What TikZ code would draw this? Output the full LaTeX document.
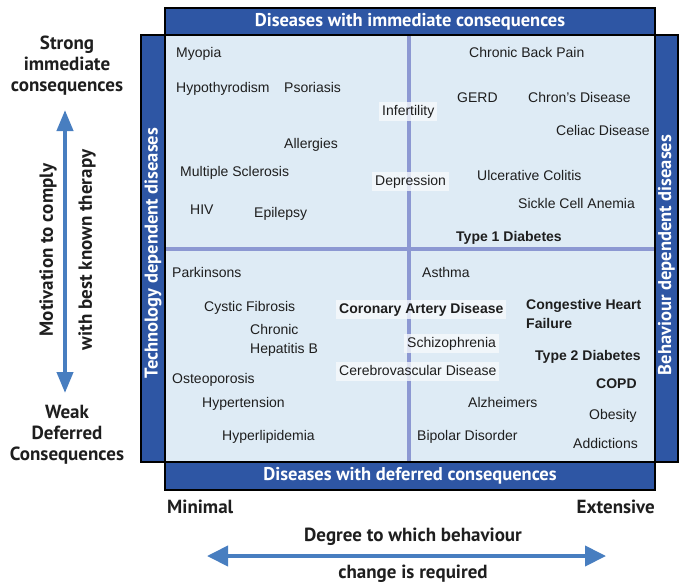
\documentclass[tikz,border=0pt]{standalone}
\usepackage{fontspec}
\setmainfont{Liberation Sans}
\newfontfamily\hdfont{PT Sans}
\usetikzlibrary{arrows.meta}

\definecolor{barblue}{RGB}{46,86,164}
\definecolor{panel}{RGB}{222,235,245}
\definecolor{divider}{RGB}{140,152,210}
\definecolor{labelbg}{RGB}{246,249,252}
\definecolor{arrowblue}{RGB}{72,126,192}
\definecolor{ink}{RGB}{30,30,30}

\tikzset{
  dzbase/.style={anchor=west, inner sep=0pt, text=ink},
  dz/.style={dzbase, text height=10.5pt, text depth=3pt, yshift=-1.5pt, font=\fontsize{14}{15}\selectfont},
  dzb/.style={dz, font=\fontsize{14}{15}\selectfont\bfseries},
  dzml/.style={dzbase, align=left, font=\fontsize{14}{19}\selectfont},
  dzmlb/.style={dzml, font=\fontsize{14}{19}\selectfont\bfseries},
  dzbox/.style={dz, fill=labelbg, fill opacity=0.8, text opacity=1, inner xsep=3pt, inner ysep=3pt},
  dzboxb/.style={dzbox, font=\fontsize{14}{15}\selectfont\bfseries},
  barlabel/.style={text=white, inner sep=0pt, font=\hdfont\bfseries\fontsize{18.5}{20}\selectfont},
  axislabel/.style={text=ink, inner sep=0pt, align=center, font=\hdfont\bfseries\fontsize{19}{21}\selectfont},
  vtip/.tip={Triangle[width=16pt,length=21pt]},
  htip/.tip={Triangle[width=20pt,length=21pt]},
  vaxis/.style={draw=arrowblue, line width=4pt, {vtip}-{vtip}},
  haxis/.style={draw=arrowblue, line width=4pt, {htip}-{htip}},
  frame/.style={draw=black, line width=1.8pt},
  divline/.style={draw=divider, line width=3.5pt}
}

\begin{document}
\begin{tikzpicture}[x=1pt, y=-1pt]
\useasboundingbox (0,0) rectangle (679,584);

% frame: side bars, top/bottom bars and the light quadrant panel
\fill[barblue] (141,35) rectangle (678,462);
\draw[frame] (141,35) rectangle (678,462);
\fill[barblue] (165,8) rectangle (655,490);
\draw[frame] (165,8) rectangle (655,490);
\fill[panel] (165,35) rectangle (655,462);
\draw[frame] (165,35) rectangle (655,462);

% quadrant dividers
\draw[divline] (409,36) -- (409,461);
\draw[divline] (166,249) -- (654,249);

% bar captions
\node[barlabel] (top) at (410,21.5) {Diseases with immediate consequences};
\node[barlabel] (bottom) at (410,476) {Diseases with deferred consequences};
\node[barlabel, rotate=90] (tech) at (153,253) {Technology dependent diseases};
\node[barlabel, rotate=90] (behav) at (666.5,255) {Behaviour dependent diseases};

% upper left quadrant
\node[dz] (myopia) at (176,52) {Myopia};
\node[dz] (hypothy) at (176,87) {Hypothyrodism};
\node[dz] (psoriasis) at (284,87) {Psoriasis};
\node[dz] (allergies) at (284,143) {Allergies};
\node[dz] (ms) at (180,171) {Multiple Sclerosis};
\node[dz] (hiv) at (190,209) {HIV};
\node[dz] (epilepsy) at (254,212) {Epilepsy};
\node[dzbox] (infert) at (379,110) {Infertility};
\node[dzbox] (depress) at (372,180) {Depression};

% upper right quadrant
\node[dz] (backpain) at (469,52) {Chronic Back Pain};
\node[dz] (gerd) at (457,97) {GERD};
\node[dz] (chron) at (528,97) {Chron's Disease};
\node[dz] (celiac) at (556,130) {Celiac Disease};
\node[dz] (colitis) at (477,175) {Ulcerative Colitis};
\node[dz] (sickle) at (518,203) {Sickle Cell Anemia};
\node[dzb] (type1) at (456,236) {Type 1 Diabetes};

% lower left quadrant
\node[dz] (parkinsons) at (172,272) {Parkinsons};
\node[dz] (cystic) at (204,306) {Cystic Fibrosis};
\node[dzml] (hepb) at (250,340.5) {Chronic\\Hepatitis B};
\node[dz] (osteo) at (172,378) {Osteoporosis};
\node[dz] (hypert) at (202,402) {Hypertension};
\node[dz] (hyperl) at (222,435) {Hyperlipidemia};
\node[dzboxb] (coronary) at (336,308) {Coronary Artery Disease};
\node[dzbox] (cerebro) at (336,370) {Cerebrovascular Disease};

% lower right quadrant
\node[dzbox] (schizo) at (404,342) {Schizophrenia};
\node[dz] (asthma) at (422,272) {Asthma};
\node[dzmlb] (chf) at (526,313.5) {Congestive Heart\\Failure};
\node[dzb] (type2) at (535,355) {Type 2 Diabetes};
\node[dzb] (copd) at (596,383) {COPD};
\node[dz] (alz) at (468,402) {Alzheimers};
\node[dz] (obesity) at (589,414) {Obesity};
\node[dz] (bipolar) at (417,435) {Bipolar Disorder};
\node[dz] (addict) at (573,443) {Addictions};

% vertical axis
\node[axislabel] (strong) at (67,65.5) {Strong\\immediate\\consequences};
\node[axislabel] (weak) at (67,434.5) {Weak\\Deferred\\Consequences};
\node[axislabel, rotate=90] (motiv) at (48,250) {Motivation to comply};
\node[axislabel, rotate=90] (therapy) at (87,250) {with best known therapy};
\coordinate (vtop) at (65,110);
\coordinate (vbot) at (65,393);
\draw[vaxis] (vtop) -- (vbot);

% horizontal axis
\node[axislabel, anchor=west] (minimal) at (167,507) {Minimal};
\node[axislabel, anchor=east] (extensive) at (655,507) {Extensive};
\node[axislabel] (degree) at (413,537) {Degree to which behaviour};
\node[axislabel] (change) at (413,573.5) {change is required};
\coordinate (hleft) at (207,556);
\coordinate (hright) at (606,556);
\draw[haxis] (hleft) -- (hright);
\end{tikzpicture}
\end{document}
